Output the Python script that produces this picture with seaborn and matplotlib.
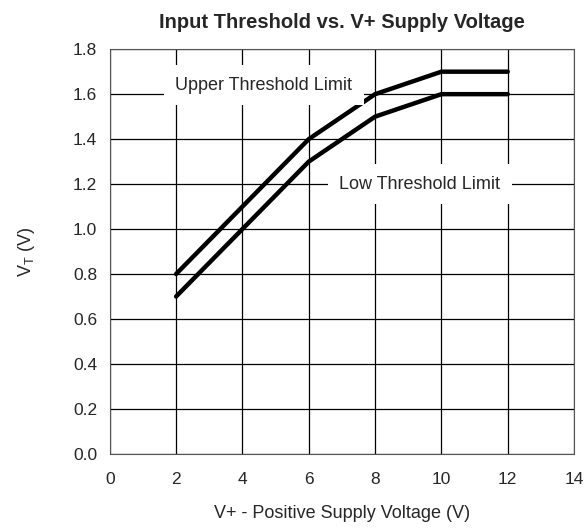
import pandas as pd
import seaborn as sns
import matplotlib.pyplot as plt

# Values
supply_v = [2, 6, 8, 10, 12]
upper_vt = [0.8, 1.4, 1.6, 1.7, 1.7]
low_vt = [0.7, 1.3, 1.5, 1.6, 1.6]

df = pd.DataFrame({
    "supply": supply_v * 2,
    "vt": upper_vt + low_vt,
    "limit": ["Upper"] * len(supply_v) + ["Low"] * len(supply_v),
})

sns.set_style("whitegrid", {"grid.color": "black", "axes.edgecolor": "#555555"})
plt.rcParams["font.family"] = ["Liberation Sans", "DejaVu Sans"]

fig, ax = plt.subplots(figsize=(5.87, 5.29), dpi=100)
fig.subplots_adjust(left=0.187, right=0.978, top=0.907, bottom=0.142)

sns.lineplot(data=df, x="supply", y="vt", units="limit", estimator=None,
             color="black", linewidth=3.2, ax=ax, legend=False)

ax.set_xlim(0, 14)
ax.set_ylim(0, 1.8)
ax.set_xticks(range(0, 15, 2))
ax.set_yticks([i / 10 for i in range(0, 19, 2)])
ax.set_yticklabels([f"{i / 10:.1f}" for i in range(0, 19, 2)])
ax.tick_params(length=0, labelsize=12.5)
ax.tick_params(axis="x", pad=13)
ax.tick_params(axis="y", pad=9)
for s in ax.spines.values():
    s.set_linewidth(0.8)
ax.grid(True, color="black", linewidth=0.9)

ax.set_title("Input Threshold vs. V+ Supply Voltage", fontsize=14.5, fontweight="bold", pad=15)
ax.set_xlabel("V+ - Positive Supply Voltage (V)", fontsize=13, labelpad=13)
ax.set_ylabel("V$_\\mathregular{T}$ (V)", fontsize=13, labelpad=26)

ax.text(4.65, 1.64, "Upper Threshold Limit", ha="center", va="center", fontsize=13,
        bbox=dict(facecolor="white", edgecolor="none", pad=8))
ax.text(9.35, 1.2, "Low Threshold Limit", ha="center", va="center", fontsize=13,
        bbox=dict(facecolor="white", edgecolor="none", pad=8))

plt.savefig("out.png", dpi=100)
